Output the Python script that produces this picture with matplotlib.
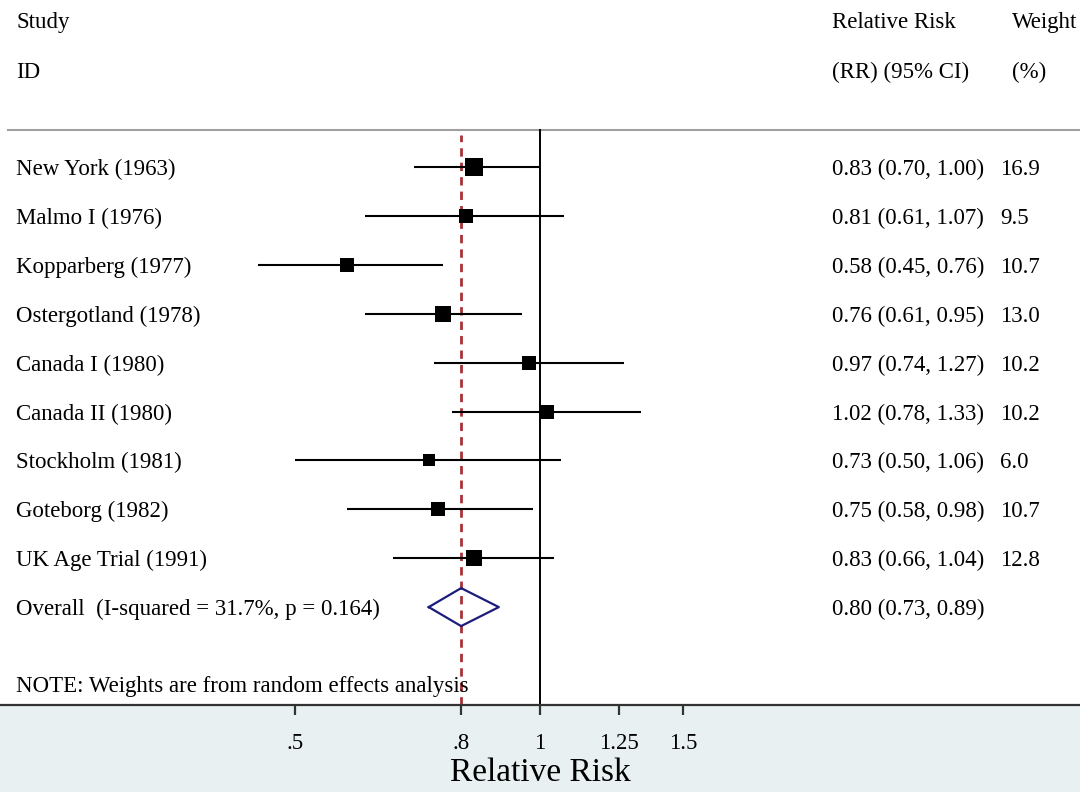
import numpy as np
import matplotlib
matplotlib.use("Agg")
import matplotlib.pyplot as plt
from matplotlib.transforms import blended_transform_factory

plt.rcParams['font.family'] = ['Liberation Serif', 'DejaVu Serif']

# ---- data ----
studies = ["New York (1963)", "Malmo I (1976)", "Kopparberg (1977)",
           "Ostergotland (1978)", "Canada I (1980)", "Canada II (1980)",
           "Stockholm (1981)", "Goteborg (1982)", "UK Age Trial (1991)"]
rr = [0.83, 0.81, 0.58, 0.76, 0.97, 1.02, 0.73, 0.75, 0.83]
lo = [0.70, 0.61, 0.45, 0.61, 0.74, 0.78, 0.50, 0.58, 0.66]
hi = [1.00, 1.07, 0.76, 0.95, 1.27, 1.33, 1.06, 0.98, 1.04]
weights = [16.9, 9.5, 10.7, 13.0, 10.2, 10.2, 6.0, 10.7, 12.8]
overall = 0.80
overall_lo = 0.73
overall_hi = 0.89
overall_label = "Overall  (I-squared = 31.7%, p = 0.164)"
note = "NOTE: Weights are from random effects analysis"
xticks = [0.5, 0.8, 1, 1.25, 1.5]
xticklabels = [".5", ".8", "1", "1.25", "1.5"]

# ---- layout (pixel-like y coordinates) ----
W, H = 1080, 792
axis_y = 705
fig = plt.figure(figsize=(W / 100, H / 100), dpi=100)
fig.patch.set_facecolor('#e8f0f2')
ax = fig.add_axes([0, (H - axis_y) / H, 1, axis_y / H])
ax.set_facecolor('white')
ax.set_xscale('log')
k = 353.5  # px per ln unit
ax.set_xlim(np.exp(-540 / k), np.exp((W - 540) / k))
ax.set_ylim(axis_y, 0)

first_row, step = 167, 48.9
rows = [first_row + i * step for i in range(len(studies))]
overall_y = first_row + len(studies) * step

fs = 16.5
tx = blended_transform_factory(ax.transAxes, ax.transData)
VA = 'center_baseline'

# reference lines
sep_y = 130
ax.plot([8 / W, 1], [sep_y, sep_y], transform=tx, color='#a0a0a0', lw=1.5)
ax.axvline(1, ymin=0, ymax=(axis_y - sep_y) / axis_y, color='black', lw=1.4)
ax.axvline(overall, ymin=0, ymax=(axis_y - 135) / axis_y, color='#a83238',
           lw=2, dashes=(3, 2.2))

# CIs and squares
for y, r, l, h, w in zip(rows, rr, lo, hi, weights):
    ax.plot([l, h], [y, y], color='black', lw=1.5, solid_capstyle='butt')
    ax.plot([r], [y], marker='s', color='black', ms=3.25 * np.sqrt(w), mew=0)

# overall diamond
dh = 19
ax.plot([overall_lo, overall, overall_hi, overall, overall_lo],
        [overall_y, overall_y - dh, overall_y, overall_y + dh, overall_y],
        color='#1c1c7c', lw=1.6)

def t(xpx, y, s):
    ax.text(xpx / W, y, s, transform=tx, fontsize=fs, va=VA)

# header
t(16, 20, "Study")
t(16, 70, "ID")
t(832, 20, "Relative Risk")
t(832, 70, "(RR) (95% CI)")
t(1012, 20, "Weight")
t(1012, 70, "(%)")

for y, s, r, l, h, w in zip(rows, studies, rr, lo, hi, weights):
    t(16, y, s)
    t(832, y, f"{r:.2f} ({l:.2f}, {h:.2f})")
    t(1000, y, f"{w:.1f}")

t(16, overall_y, overall_label)
t(832, overall_y, f"{overall:.2f} ({overall_lo:.2f}, {overall_hi:.2f})")
t(16, 684, note)

# axes styling
for s in ['top', 'left', 'right']:
    ax.spines[s].set_visible(False)
ax.spines['bottom'].set_color('#333333')
ax.spines['bottom'].set_linewidth(1.6)
ax.set_yticks([])
ax.set_xticks(xticks)
ax.set_xticklabels(xticklabels, fontsize=fs)
ax.xaxis.set_minor_locator(matplotlib.ticker.NullLocator())
ax.tick_params(axis='x', direction='out', length=7, width=1.6, pad=13,
               color='#333333')
ax.set_xlabel("Relative Risk", fontsize=24, labelpad=3)

fig.savefig("out.png", dpi=100, facecolor=fig.get_facecolor())
